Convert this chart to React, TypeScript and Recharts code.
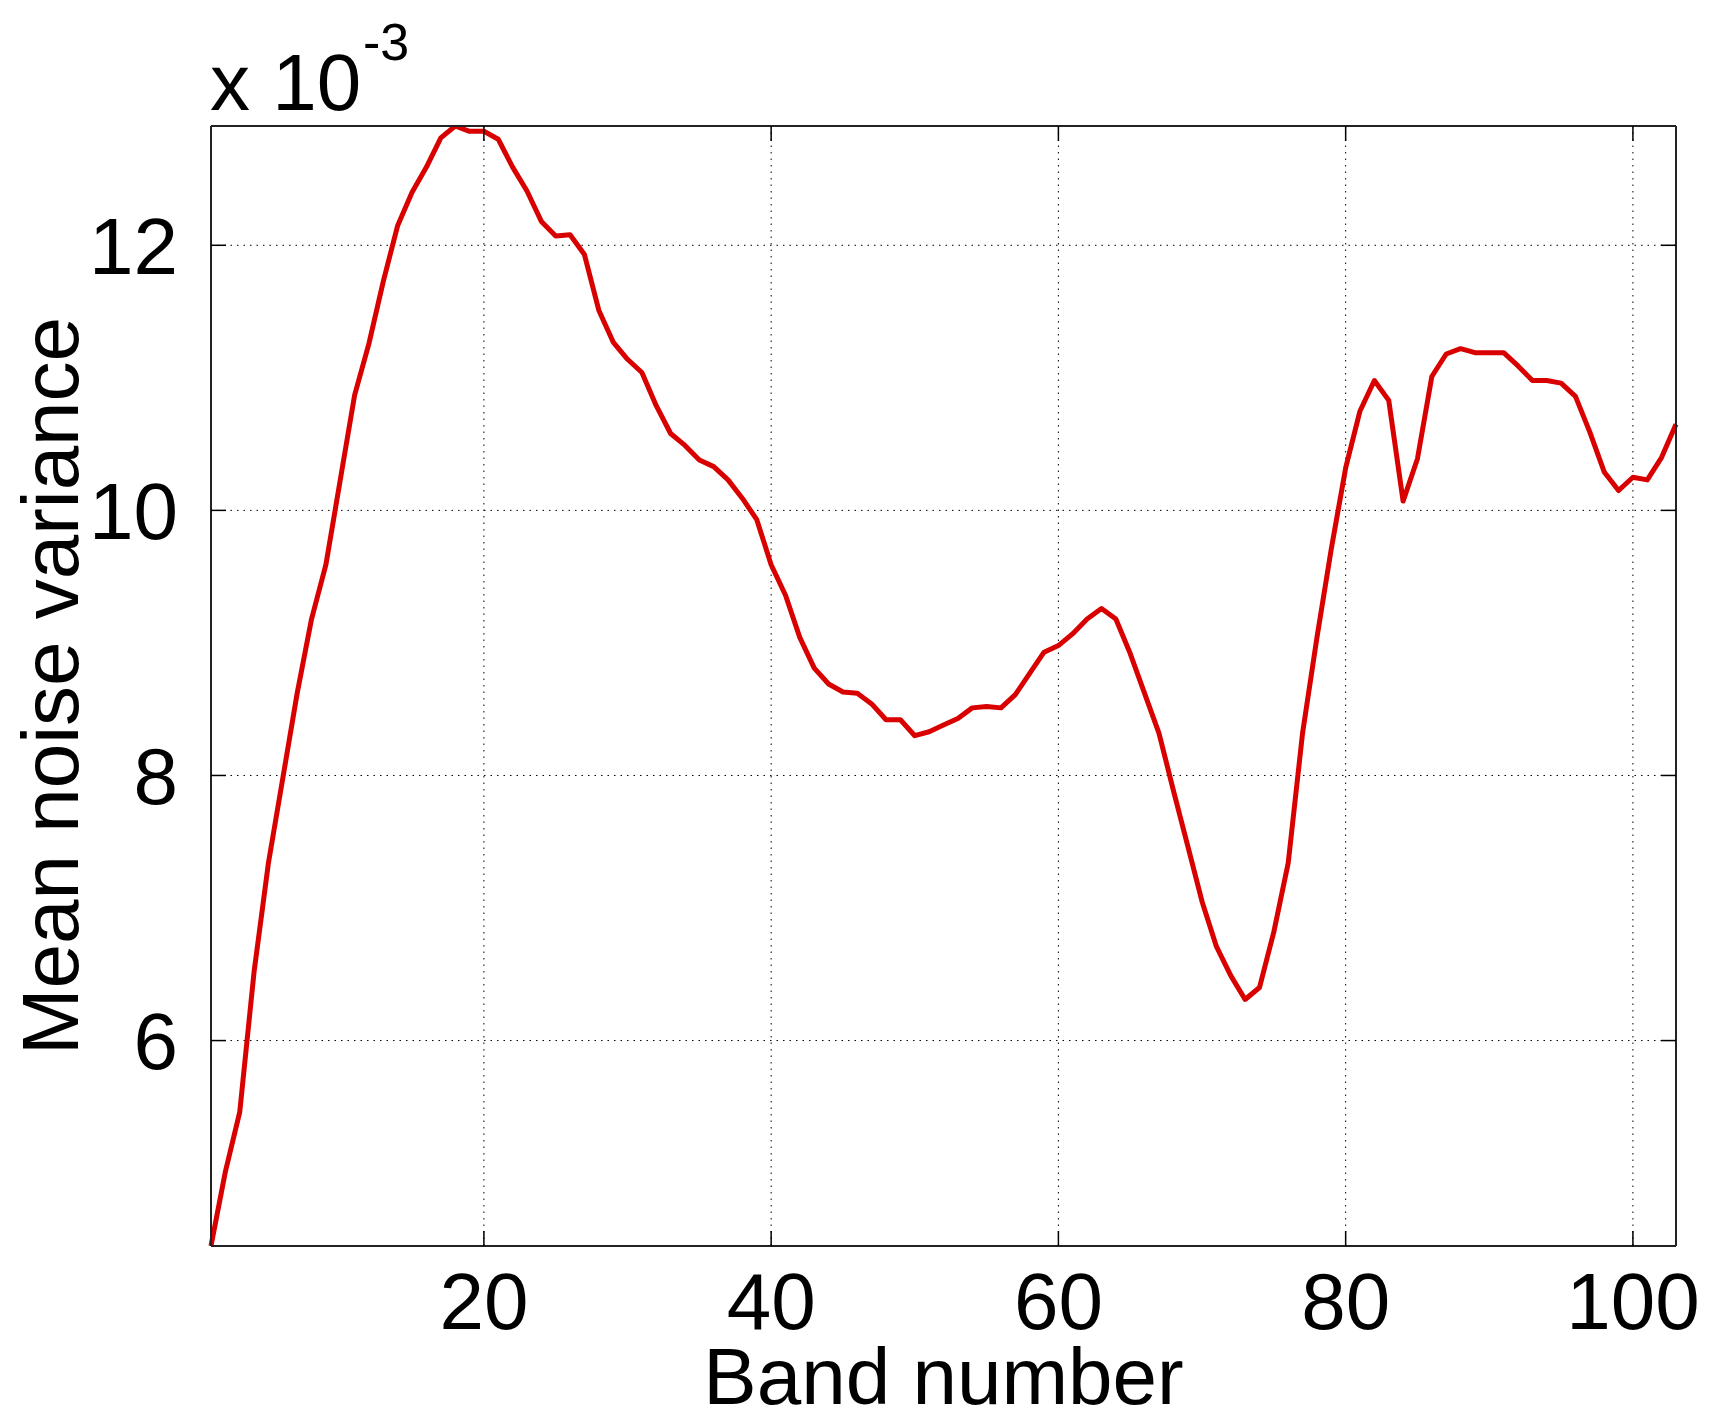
import React from "react";
import {
  LineChart,
  Line,
  XAxis,
  YAxis,
  CartesianGrid,
  Label,
} from "recharts";

// mean noise variance per band (x 10^-3), bands 1..103
const noiseVariance = [
  4.45, 5.01, 5.46, 6.52, 7.34, 7.98, 8.62, 9.18, 9.59, 10.23,
  10.87, 11.26, 11.73, 12.15, 12.4, 12.59, 12.81, 12.9, 12.86, 12.86,
  12.8, 12.59, 12.41, 12.18, 12.07, 12.08, 11.93, 11.51, 11.27, 11.14,
  11.04, 10.79, 10.58, 10.49, 10.38, 10.33, 10.23, 10.09, 9.93, 9.59,
  9.36, 9.04, 8.81, 8.69, 8.63, 8.62, 8.54, 8.42, 8.42, 8.3,
  8.33, 8.38, 8.43, 8.51, 8.52, 8.51, 8.61, 8.77, 8.93, 8.98,
  9.07, 9.18, 9.26, 9.18, 8.92, 8.62, 8.32, 7.89, 7.47, 7.05,
  6.71, 6.49, 6.31, 6.4, 6.82, 7.34, 8.32, 9.04, 9.71, 10.32,
  10.75, 10.98, 10.83, 10.07, 10.39, 11.01, 11.18, 11.22, 11.19, 11.19,
  11.19, 11.09, 10.98, 10.98, 10.96, 10.86, 10.59, 10.29, 10.15, 10.25,
  10.23, 10.4, 10.65,
];

const xTicks = [20, 40, 60, 80, 100];
const yTicks = [6, 8, 10, 12];
const xDomain = [1, 103];
const yDomain = [4.45, 12.9];

const data = noiseVariance.map((v, i) => ({ band: i + 1, value: v }));

const FONT = "'Liberation Sans', Arial, Helvetica, sans-serif";
const tickStyle = { fill: "#000", fontSize: 80, fontFamily: FONT };
const frame = { stroke: "#222", strokeWidth: 2 };
const tickMark = { stroke: "#000", strokeWidth: 1.5 };
const noLabel = () => <g />;

export default function App() {
  return (
    <div style={{ position: "absolute", left: 0, top: 0, background: "#fff" }}>
      <LineChart
        width={1713}
        height={1426}
        data={data}
        margin={{ top: 125, right: 36, bottom: 0, left: 0 }}
      >
        <CartesianGrid stroke="#000" strokeWidth={1} strokeDasharray="1.5 5" />
        <XAxis
          dataKey="band"
          type="number"
          domain={xDomain}
          ticks={xTicks}
          interval={0}
          height={180}
          axisLine={frame}
          tickLine={tickMark}
          tickSize={-15}
          tickMargin={41}
          tick={tickStyle}
        >
          <Label
            value="Band number"
            position="insideBottom"
            offset={22}
            style={{ fill: "#000", fontSize: 80, fontFamily: FONT }}
          />
        </XAxis>
        <XAxis
          xAxisId="top"
          orientation="top"
          dataKey="band"
          type="number"
          domain={xDomain}
          ticks={xTicks}
          interval={0}
          height={1}
          axisLine={frame}
          tickLine={tickMark}
          tickSize={-15}
          tick={noLabel}
        />
        <YAxis
          type="number"
          domain={yDomain}
          allowDataOverflow
          ticks={yTicks}
          interval={0}
          width={211}
          axisLine={frame}
          tickLine={tickMark}
          tickSize={-15}
          tickMargin={48}
          tick={tickStyle}
        >
          <Label
            value="Mean noise variance"
            angle={-90}
            position="insideLeft"
            offset={50}
            style={{ fill: "#000", fontSize: 80, fontFamily: FONT, textAnchor: "middle" }}
          />
        </YAxis>
        <YAxis
          yAxisId="right"
          orientation="right"
          type="number"
          domain={yDomain}
          allowDataOverflow
          ticks={yTicks}
          interval={0}
          width={1}
          axisLine={frame}
          tickLine={tickMark}
          tickSize={-15}
          tick={noLabel}
        />
        <Line
          type="linear"
          dataKey="value"
          stroke="#d90000"
          strokeWidth={5}
          strokeLinejoin="round"
          dot={false}
          isAnimationActive={false}
        />
        <text x={210} y={110} fill="#000" fontSize={80} fontFamily={FONT}>
          x 10
        </text>
        <text x={363} y={60} fill="#000" fontSize={52} fontFamily={FONT}>
          -3
        </text>
      </LineChart>
    </div>
  );
}
